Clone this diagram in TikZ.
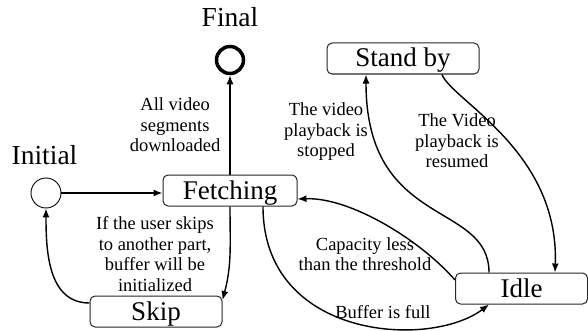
\documentclass[tikz,border=0pt]{standalone}
\usepackage{fontspec}
\setmainfont{Liberation Serif}
\usetikzlibrary{arrows.meta}

\begin{document}
\begin{tikzpicture}[x=1pt,y=1pt,
  state/.style={draw=black!85, line width=1pt, rounded corners=5pt,
    minimum height=31pt, inner sep=0pt, text height=20pt, text depth=3pt,
    font=\fontsize{27}{30}\selectfont},
  heading/.style={anchor=base, font=\fontsize{27.5}{30}\selectfont},
  tag/.style={align=center, inner sep=0pt, font=\fontsize{18.5}{20.5}\selectfont},
  edge/.style={draw, line width=1.4pt, ->, >={Latex[length=9pt,width=7pt]}}]
\useasboundingbox (0,0) rectangle (588,330);

\node[draw, circle, minimum size=30pt, inner sep=0pt, line width=0.9pt] (init) at (46,137) {};
\node[heading] (initlbl) at (44.5,166) {Initial};
\node[draw, circle, minimum size=27pt, inner sep=0pt, line width=3.5pt] (fin) at (230,270) {};
\node[heading] (finlbl) at (230,303) {Final};

\node[state, minimum width=134pt] (fetch) at (230,139.5) {Fetching};
\node[state, minimum width=132pt] (skip) at (156,18.5) {Skip};
\node[state, minimum width=152pt] (standby) at (403,271.5) {Stand by};
\node[state, minimum width=132pt] (idle) at (521.5,41.5) {Idle};

\path[edge] (init.east) -- (init.east -| fetch.west);
\path[edge] (fetch.north) -- (fin.south)
  node[tag, midway, left=9pt] (lbldone) {All video\\segments\\downloaded};
\path[edge] (fetch.south) to[out=-90, in=75] ([yshift=11.5pt]skip.east);
\path[edge] ([yshift=8.5pt]skip.west) to[out=180, in=-90, out distance=42pt, in distance=41pt] (init.south);
\path[edge] ([xshift=33pt]fetch.south) to[out=-90, in=-143, out distance=133pt, in distance=74pt] ([xshift=-32.5pt]idle.south);
\path[edge] ([yshift=8.5pt]idle.west) to[out=131, in=2, distance=53pt] ([yshift=-8.5pt]fetch.east);
\path[edge] ([xshift=-32.5pt]idle.north) to[out=90, in=-90, out distance=72pt, in distance=155pt] ([xshift=-37pt]standby.south);
\path[edge] ([xshift=39pt]standby.south) to[out=-69, in=88, out distance=28pt, in distance=122pt] ([xshift=33.5pt]idle.north);

\node[tag] (lblskip) at (155,76) {If the user skips\\to another part,\\buffer will be\\initialized};
\node[tag] (lblcap) at (365,76) {Capacity less\\than the threshold};
\node[tag] (lblfull) at (383,18) {Buffer is full};
\node[tag] (lblstop) at (326,198) {The video\\playback is\\stopped};
\node[tag] (lblres) at (457,189) {The Video\\playback is\\resumed};
\end{tikzpicture}
\end{document}
